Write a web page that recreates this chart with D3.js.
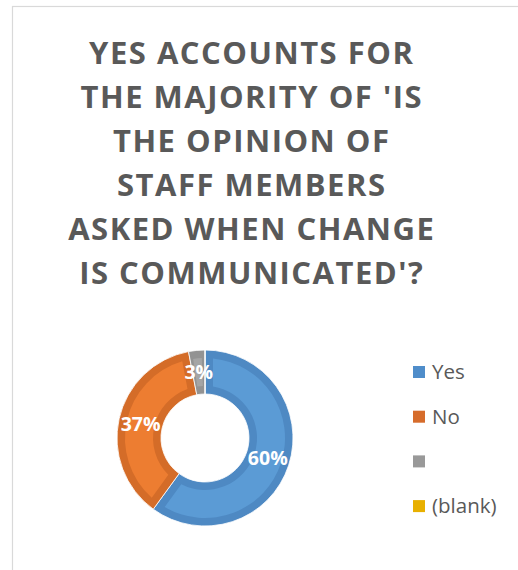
<!DOCTYPE html>
<html>
<head>
<meta charset="utf-8">
<script src="https://cdn.jsdelivr.net/npm/d3@7"></script>
<style>
  html, body { margin: 0; padding: 0; background: #fff; }
  svg { display: block; }
</style>
</head>
<body>
<svg id="chart" width="518" height="570"></svg>
<script>
// Survey answers and their shares of responses
const categories = ["Yes", "No", "", "(blank)"];
const shares = [0.60, 0.37, 0.03, 0.00];
const percentLabels = ["60%", "37%", "3%", ""];
const baseColors = ["#5b9bd5", "#ed7d31", "#a5a5a5", "#ffc000"];
const rimColors = ["#4e89c3", "#d46c28", "#939393", "#e0a800"];
const legendColors = ["#4f8dca", "#d66c2b", "#999999", "#e8b000"];
const titleLines = [
  "YES ACCOUNTS FOR",
  "THE MAJORITY OF 'IS",
  "THE OPINION OF",
  "STAFF MEMBERS",
  "ASKED WHEN CHANGE",
  "IS COMMUNICATED'?"
];

const svg = d3.select("#chart");
const font = "'Open Sans', 'Noto Sans', sans-serif";

// chart area border
svg.append("rect")
  .attr("x", 12.5).attr("y", 6.5)
  .attr("width", 530).attr("height", 600)
  .attr("fill", "#fff")
  .attr("stroke", "#d9d9d9").attr("stroke-width", 1.2);

// title (spaced capitals)
const spacing = 1.5;
svg.append("g")
  .selectAll("text")
  .data(titleLines)
  .join("text")
  .attr("x", 251 + spacing / 2)
  .attr("y", (d, i) => 63.5 + i * 44)
  .attr("text-anchor", "middle")
  .attr("font-family", font)
  .attr("font-weight", 700)
  .attr("font-size", 31)
  .attr("letter-spacing", spacing)
  .attr("fill", "#595959")
  .text(d => d);

// doughnut
const cx = 205, cy = 438, outerR = 88, innerR = 44, bevel = 8;
const pie = d3.pie().sort(null).value(d => d);
const arcs = pie(shares);

const g = svg.append("g").attr("transform", `translate(${cx},${cy})`);

const arcOuter = d3.arc().innerRadius(innerR).outerRadius(outerR);
const arcInner = d3.arc()
  .innerRadius(innerR + bevel)
  .outerRadius(outerR - bevel)
  .padRadius(100)
  .padAngle(2 * bevel / 100);

g.selectAll("path.rim")
  .data(arcs)
  .join("path")
  .attr("class", "rim")
  .attr("d", arcOuter)
  .attr("fill", (d, i) => rimColors[i])
  .attr("stroke", "#fff")
  .attr("stroke-width", 0.8);

g.selectAll("path.face")
  .data(arcs.filter(a => a.endAngle - a.startAngle > 0.3))
  .join("path")
  .attr("class", "face")
  .attr("d", arcInner)
  .attr("fill", d => baseColors[d.index]);

// narrow slice face (too thin for the padded inset)
g.selectAll("path.face-thin")
  .data(arcs.filter(a => a.endAngle - a.startAngle > 0 && a.endAngle - a.startAngle <= 0.3))
  .join("path")
  .attr("class", "face-thin")
  .attr("d", d3.arc().innerRadius(innerR + bevel).outerRadius(outerR - bevel)
    .startAngle(d => d.startAngle + 0.04).endAngle(d => d.endAngle - 0.04))
  .attr("fill", d => baseColors[d.index]);

// percentage labels
const labelArc = d3.arc().innerRadius(innerR).outerRadius(outerR);
g.selectAll("text")
  .data(arcs.filter(a => a.value > 0))
  .join("text")
  .attr("transform", d => `translate(${labelArc.centroid(d)})`)
  .attr("text-anchor", "middle")
  .attr("dy", "0.36em")
  .attr("font-family", font)
  .attr("font-weight", 700)
  .attr("font-size", 19.5)
  .attr("fill", "#fff")
  .text(d => percentLabels[d.index]);

// legend
const legend = svg.append("g");
const rows = legend.selectAll("g")
  .data(categories)
  .join("g")
  .attr("transform", (d, i) => `translate(413, ${372 + i * 44.7})`);

rows.append("rect")
  .attr("x", 0).attr("y", -6)
  .attr("width", 12).attr("height", 12)
  .attr("fill", (d, i) => legendColors[i]);

rows.append("text")
  .attr("x", 19)
  .attr("dy", "0.36em")
  .attr("font-family", font)
  .attr("font-size", 20.5)
  .attr("fill", "#595959")
  .text(d => d);
</script>
</body>
</html>
